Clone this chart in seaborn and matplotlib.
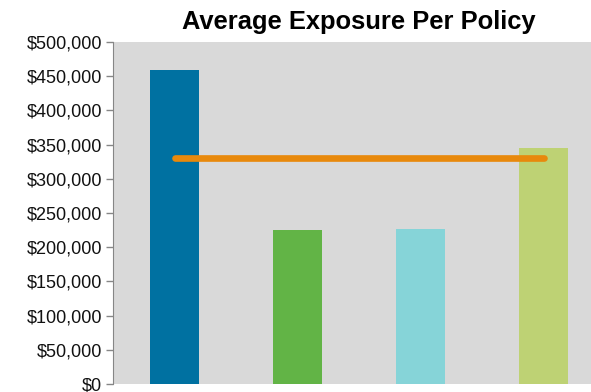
import pandas as pd
import matplotlib.pyplot as plt
import seaborn as sns
from matplotlib.ticker import FuncFormatter

# Values
segments = ['Segment A', 'Segment B', 'Segment C', 'Segment D']
avg_exposure = [459000, 225000, 226500, 345000]
overall_avg = 331000
bar_colors = ['#0071A1', '#62B446', '#86D4D8', '#BED274']

df = pd.DataFrame({'Segment': segments, 'Exposure': avg_exposure})
line_df = pd.DataFrame({'Segment': segments, 'Exposure': [overall_avg] * len(segments)})

sns.set_style('white')
plt.rcParams['font.family'] = ['Liberation Sans', 'DejaVu Sans']

fig = plt.figure(figsize=(5.91, 3.92), dpi=100)
# plot area runs a little past the right edge, as in the original crop
ax = fig.add_axes([113 / 591, 8 / 392, 492 / 591, 342 / 392])
ax.set_facecolor('#D9D9D9')

sns.barplot(data=df, x='Segment', y='Exposure', hue='Segment',
            palette=bar_colors, width=0.4, saturation=1, legend=False,
            linewidth=0, ax=ax)
sns.lineplot(data=line_df, x='Segment', y='Exposure', color='#E8890C',
             linewidth=4.8, solid_capstyle='round', ax=ax)

ax.set_ylim(0, 500000)
ax.set_yticks(range(0, 500001, 50000))
ax.yaxis.set_major_formatter(FuncFormatter(lambda v, _: f'${v:,.0f}'))
ax.set_xlim(-0.5, 3.5)
ax.set_xticks([])
ax.set_xlabel('')
ax.set_ylabel('')
ax.tick_params(axis='y', left=True, length=5, width=1, color='#868686',
               labelsize=13, labelcolor='#111111', pad=3)
for side in ['top', 'right', 'bottom']:
    ax.spines[side].set_visible(False)
ax.spines['left'].set_color('#868686')
ax.set_title('Average Exposure Per Policy', fontsize=18.4, fontweight='bold',
             color='black', pad=9)

fig.savefig('out.png', dpi=100)
